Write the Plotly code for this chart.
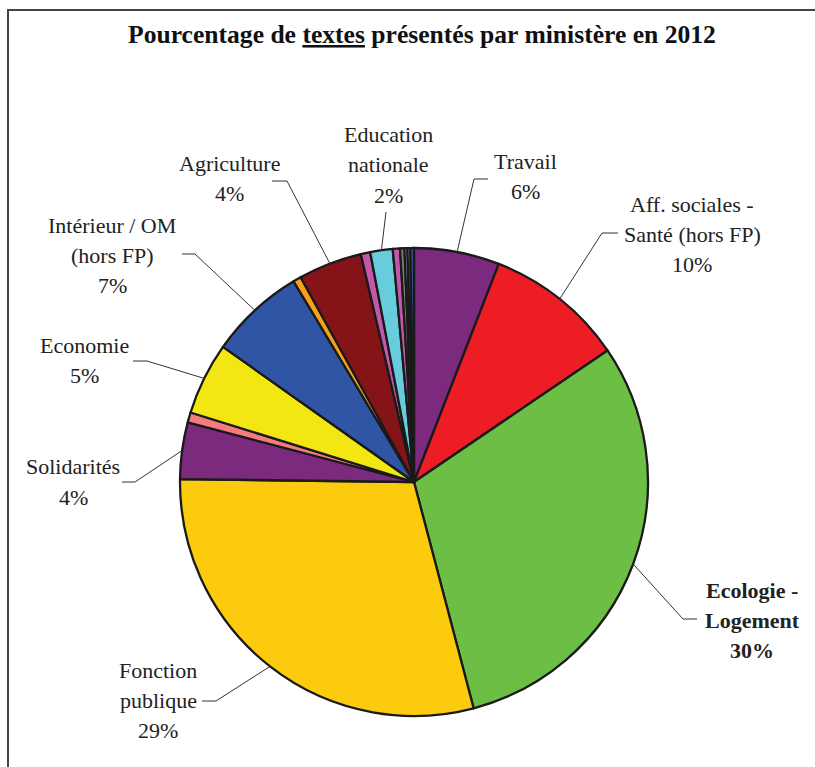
import math
import plotly.graph_objects as go

W, H = 815, 767

# ---- data ----
categories = [
    "Travail", "Aff. sociales - Santé (hors FP)", "Ecologie - Logement",
    "Fonction publique", "Solidarités", "Autre 1", "Economie",
    "Intérieur / OM (hors FP)", "Autre 2", "Agriculture", "Autre 3",
    "Education nationale", "Autre 4", "Autre 5", "Autre 6", "Autre 7", "Autre 8",
]
values = [5.9, 9.6, 30.4, 29.3, 3.9, 0.7, 5.0, 6.6, 0.55, 4.4, 0.65,
          1.55, 0.5, 0.3, 0.2, 0.2, 0.25]
colors = ["#7B2A7E", "#EE1C25", "#6CBE45", "#FDCB0E", "#7B2A7E", "#F47C7C",
          "#F2E713", "#2F55A4", "#F7A11A", "#841417", "#C158A9", "#67CCDB",
          "#C158A9", "#7F7F7F", "#CFC8E3", "#9A9A9A", "#2F55A4"]

# label text lines (shown labels only) : index -> lines of name
label_names = {
    0: ["Travail"],
    1: ["Aff. sociales -", "Santé (hors FP)"],
    2: ["Ecologie -", "Logement"],
    3: ["Fonction", "publique"],
    4: ["Solidarités"],
    6: ["Economie"],
    7: ["Intérieur / OM", "(hors FP)"],
    9: ["Agriculture"],
    11: ["Education", "nationale"],
}

# ---- layout / style (pixels) ----
CX, CY, R = 414, 482, 234
label_pos = {  # center x, first line y
    0: (525, 162), 1: (692, 205), 2: (752, 590), 3: (158, 670),
    4: (73, 467), 6: (84, 345), 7: (112, 225), 9: (229, 163), 11: (388, 135),
}
elbows = {  # elbow point, end point
    0: ((474, 179), (488, 179)), 1: ((602, 233), (618, 233)),
    2: ((683, 619), (697, 619)), 3: ((216, 701), (202, 701)),
    4: ((135, 482), (122, 482)), 6: ((147, 361), (133, 361)),
    7: ((195, 254), (182, 254)), 9: ((287, 181), (272, 181)),
    11: ((386, 212), (386, 212)),
}
LINE_H = 30
FONT = "Times New Roman, Liberation Serif, DejaVu Serif, serif"

def px(x):
    return x / W

def py(y):
    return 1 - y / H

fig = go.Figure(go.Pie(
    labels=categories, values=values, sort=False, direction="clockwise",
    rotation=0, textinfo="none", hoverinfo="label+percent",
    marker=dict(colors=colors, line=dict(color="#1a1a1a", width=2.3)),
    domain=dict(x=[px(CX - R), px(CX + R)], y=[py(CY + R), py(CY - R)]),
    showlegend=False,
))

total = sum(values)
cum = 0.0
shapes = []
annotations = []
for i, v in enumerate(values):
    mid = (cum + v / 2) / total
    cum += v
    if i not in label_names:
        continue
    ang = 2 * math.pi * mid
    sx = CX + R * math.sin(ang)
    sy = CY - R * math.cos(ang)
    (ex, ey), (tx, ty) = elbows[i]
    shapes.append(dict(type="line", xref="paper", yref="paper",
                       x0=px(sx), y0=py(sy), x1=px(ex), y1=py(ey),
                       line=dict(color="#333333", width=1)))
    if (ex, ey) != (tx, ty):
        shapes.append(dict(type="line", xref="paper", yref="paper",
                           x0=px(ex), y0=py(ey), x1=px(tx), y1=py(ty),
                           line=dict(color="#333333", width=1)))
    pct = round(100 * v / total)
    lines = label_names[i] + [f"{pct}%"]
    lx, ly = label_pos[i]
    bold = (i == 2)
    for k, t in enumerate(lines):
        annotations.append(dict(
            x=px(lx), y=py(ly + k * LINE_H), xref="paper", yref="paper",
            text=f"<b>{t}</b>" if bold else t, showarrow=False,
            xanchor="center", yanchor="middle",
            font=dict(family=FONT, size=22, color="#222222")))

# title
annotations.append(dict(
    x=px(422), y=py(35), xref="paper", yref="paper", showarrow=False,
    xanchor="center", yanchor="middle",
    text="<b>Pourcentage de <u>textes</u> présentés par ministère en 2012</b>",
    font=dict(family=FONT, size=25.6, color="#111111")))

# frame
shapes.append(dict(type="line", xref="paper", yref="paper",
                   x0=px(7), y0=py(10), x1=1, y1=py(10),
                   line=dict(color="#444444", width=2)))
shapes.append(dict(type="line", xref="paper", yref="paper",
                   x0=px(8), y0=py(10), x1=px(8), y1=0,
                   line=dict(color="#444444", width=2)))

fig.update_layout(width=W, height=H, autosize=False,
                  margin=dict(l=0, r=0, t=0, b=0),
                  paper_bgcolor="white", plot_bgcolor="white",
                  font=dict(family=FONT),
                  shapes=shapes, annotations=annotations)
fig.write_html("out.html", config={"displayModeBar": False},
               post_script="document.body.style.margin='0';document.body.style.padding='0';")
